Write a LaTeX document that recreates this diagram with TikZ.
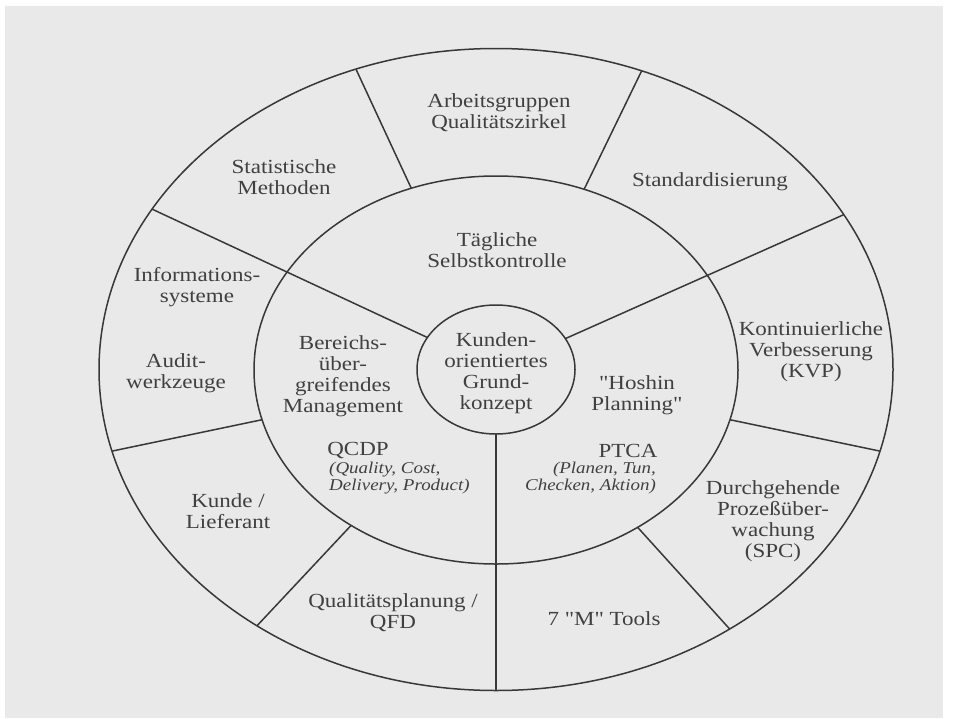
\documentclass[tikz,border=0pt]{standalone}
\usepackage{fontspec}
\setmainfont{Liberation Serif}[FakeStretch=1.15, Ligatures=TeXOff]
\usetikzlibrary{shapes.geometric}
\definecolor{paper}{gray}{0.915}
\definecolor{ink}{gray}{0.25}
\definecolor{rule}{gray}{0.22}
\begin{document}
\begin{tikzpicture}[x=1pt,y=-1pt,
  ring/.style={ellipse, draw=rule, line width=1.5pt, inner sep=0pt, outer sep=0pt},
  spoke/.style={draw=rule, line width=1.5pt},
  lbl/.style={align=center, text=ink, inner sep=0pt, font=\fontsize{20}{21}\selectfont},
  note/.style={text=ink, inner sep=0pt, font=\fontsize{16.5}{16.5}\selectfont\itshape}]
\useasboundingbox (0,0) rectangle (958,718);
\fill[white] (0,0) rectangle (958,718);
\fill[paper] (5,6) rectangle (943,718);

% three concentric rings
\node[ring, minimum width=794pt, minimum height=642pt] (outer) at (496,369.5) {};
\node[ring, minimum width=484pt, minimum height=388pt] (middle) at (496,370) {};
\node[ring, minimum width=158pt, minimum height=129pt] (core) at (496,369.5) {};

% spokes crossing both rings
\draw[spoke] (core.155) -- (outer.155);
\draw[spoke] (core.24) -- (outer.24);
\draw[spoke] (core.270) -- (outer.270);
% spokes of the outer ring only
\draw[spoke] (middle.115) -- (outer.115);
\draw[spoke] (middle.64) -- (outer.64);
\draw[spoke] (middle.192) -- (outer.192);
\draw[spoke] (middle.227) -- (outer.227);
\draw[spoke] (middle.312) -- (outer.312);
\draw[spoke] (middle.348) -- (outer.348);

% outer ring
\node[lbl] (arb) at (499,113) {Arbeitsgruppen\\Qualitätszirkel};
\node[lbl] (stat) at (284,177) {Statistische\\Methoden};
\node[lbl] (std) at (710,182) {Standardisierung};
\node[lbl] (info) at (197,287) {Informations-\\systeme};
\node[lbl] (audit) at (176,373) {Audit-\\werkzeuge};
\node[lbl] (kvp) at (811,352) {Kontinuierliche\\Verbesserung\\(KVP)};
\node[lbl] (spc) at (773,521) {Durchgehende\\Prozeßüber-\\wachung\\(SPC)};
\node[lbl] (kunde) at (228,511) {Kunde /\\Lieferant};
\node[lbl] (qfd) at (393,613) {Qualitätsplanung /\\QFD};
\node[lbl] (mtools) at (604,619) {7 "M" Tools};

% middle ring
\node[lbl] (tgl) at (497,250) {Tägliche\\Selbstkontrolle};
\node[lbl] (ber) at (343,376) {Bereichs-\\über-\\greifendes\\Management};
\node[lbl] (hosh) at (637,395) {"Hoshin\\Planning"};
\node[lbl] (qcdp) at (358,450) {QCDP};
\node[note, align=left, anchor=west] (qcdpx) at (329,478) {(Quality, Cost,\\Delivery, Product)};
\node[lbl] (ptca) at (628,451) {PTCA};
\node[note, align=right, anchor=east] (ptcax) at (656,478) {(Planen, Tun,\\Checken, Aktion)};

% core
\node[lbl] (kgk) at (496,373) {Kunden-\\orientiertes\\Grund-\\konzept};
\end{tikzpicture}
\end{document}
